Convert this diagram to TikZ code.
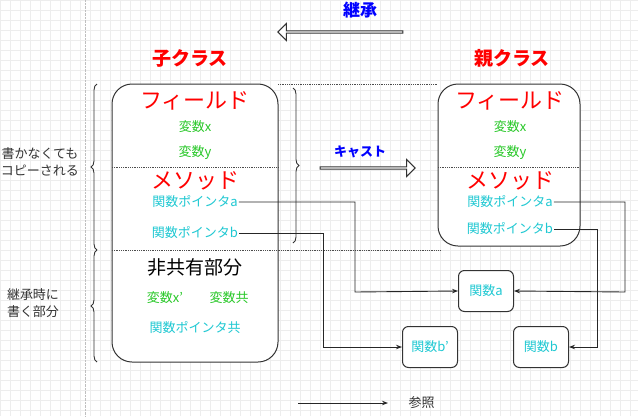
\documentclass[tikz,border=0pt]{standalone}
\usepackage{fontspec}
\setmainfont{Noto Sans CJK JP}
\usetikzlibrary{arrows.meta,decorations.pathreplacing,shapes.arrows}
\definecolor{cy}{RGB}{30,200,210}
\definecolor{gr}{RGB}{40,200,40}
\begin{document}
\begin{tikzpicture}[x=1pt,y=-1pt,
  cls/.style={draw=black!80,line width=1pt,rounded corners=20pt},
  fn/.style={draw=black!80,line width=1pt,rounded corners=6pt,minimum width=55pt,minimum height=41pt,text=cy,font=\fontsize{13}{14}\selectfont},
  hd/.style={text=red,font=\fontsize{22}{24}\selectfont},
  var/.style={text=gr,font=\fontsize{13}{14}\selectfont},
  ptr/.style={text=cy,font=\fontsize{13}{14}\selectfont,inner sep=1pt},
  dl/.style={densely dotted,black!70,line width=0.8pt},
  con/.style={black!85,line width=0.9pt,-{Stealth[length=6pt]}},
  lbl/.style={black!80,font=\fontsize{13}{17}\selectfont,align=center}]
\useasboundingbox (0,0) rectangle (638,416);
\fill[white] (0,0) rectangle (638,416);
\foreach \i in {0,10,...,630} \draw[black!7] (\i,0) -- (\i,416);
\foreach \j in {0,10,...,410} \draw[black!7] (0,\j) -- (638,\j);
\draw[black!25,densely dotted] (85,0) -- (85,416);
% title
\node[text=blue,font=\bfseries\fontsize{17}{18}\selectfont] (inh) at (360,10) {継承};
\node[single arrow,draw=black!80,line width=1pt,fill=white,shape border rotate=180,minimum height=125pt,minimum width=17pt,single arrow head extend=3pt,inner sep=0pt] (inha) at (341,32) {};
\node[text=red,font=\bfseries\fontsize{19}{20}\selectfont] (ch) at (190,58) {子クラス};
\node[text=red,font=\bfseries\fontsize{19}{20}\selectfont] (pa) at (512,58) {親クラス};
% boxes
\draw[cls,fill=white] (112,84) rectangle (278,362);
\draw[cls,fill=white] (438,84) rectangle (580,246);
\draw[dl] (278,84) -- (438,84);
\draw[dl] (112,167) -- (278,167);
\draw[dl] (438,167) -- (580,167);
\draw[dl] (112,250) -- (440,250);
% child text
\node[hd] (cf) at (195,101) {フィールド};
\node[var] (cx) at (195,127) {変数x};
\node[var] (cyv) at (195,153) {変数y};
\node[hd] (cm) at (195,181) {メソッド};
\node[ptr] (cpa) at (195,202) {関数ポインタa};
\node[ptr] (cpb) at (195,233) {関数ポインタb};
\node[font=\fontsize{19}{20}\selectfont] (nc) at (195,267) {非共有部分};
\node[var] (cx2) at (165,298) {変数x'};
\node[var] (cxk) at (229,298) {変数共};
\node[ptr] (cpk) at (195,328) {関数ポインタ共};
% parent text
\node[hd] (pf) at (510,101) {フィールド};
\node[var] (px) at (510,127) {変数x};
\node[var] (pyv) at (510,153) {変数y};
\node[hd] (pm) at (510,181) {メソッド};
\node[ptr] (ppa) at (510,202) {関数ポインタa};
\node[ptr] (ppb) at (510,229) {関数ポインタb};
% braces
\draw[black!80,line width=0.9pt,decorate,decoration={brace,amplitude=6pt}] (97,250) -- (97,84);
\draw[black!80,line width=0.9pt,decorate,decoration={brace,amplitude=6pt}] (97,362) -- (97,250);
\draw[black!80,line width=0.9pt,decorate,decoration={brace,amplitude=6pt}] (293,88) -- (293,243);
\node[lbl] (l1) at (40,162) {書かなくても\\コピーされる};
\node[lbl] (l2) at (33,303) {継承時に\\書く部分};
% cast
\node[text=blue,font=\bfseries\fontsize{13}{14}\selectfont] (cast) at (360,152) {キャスト};
\node[single arrow,draw=black!80,line width=1pt,fill=white,minimum height=95pt,minimum width=17pt,single arrow head extend=3pt,inner sep=0pt] (casta) at (367,168) {};
% function boxes
\node[fn,fill=white] (fa) at (486,291) {関数a};
\node[fn,fill=white] (fb2) at (430,347) {関数b'};
\node[fn,fill=white] (fb) at (541,347) {関数b};
% connectors
\draw[con] (cpa.east) -| (355,292) -- (fa.west);
\draw[con] (cpb.east) -| (323,347) -- (fb2.west);
\draw[con] (ppa.east) -| (625,292) -- (fa.east);
\draw[con] (ppb.east) -| (597,347) -- (fb.east);
% legend
\coordinate (lg1) at (298,403);
\node[lbl,anchor=west] (ref) at (405,403) {参照};
\draw[con] (lg1) -- (388,403);
\end{tikzpicture}
\end{document}
